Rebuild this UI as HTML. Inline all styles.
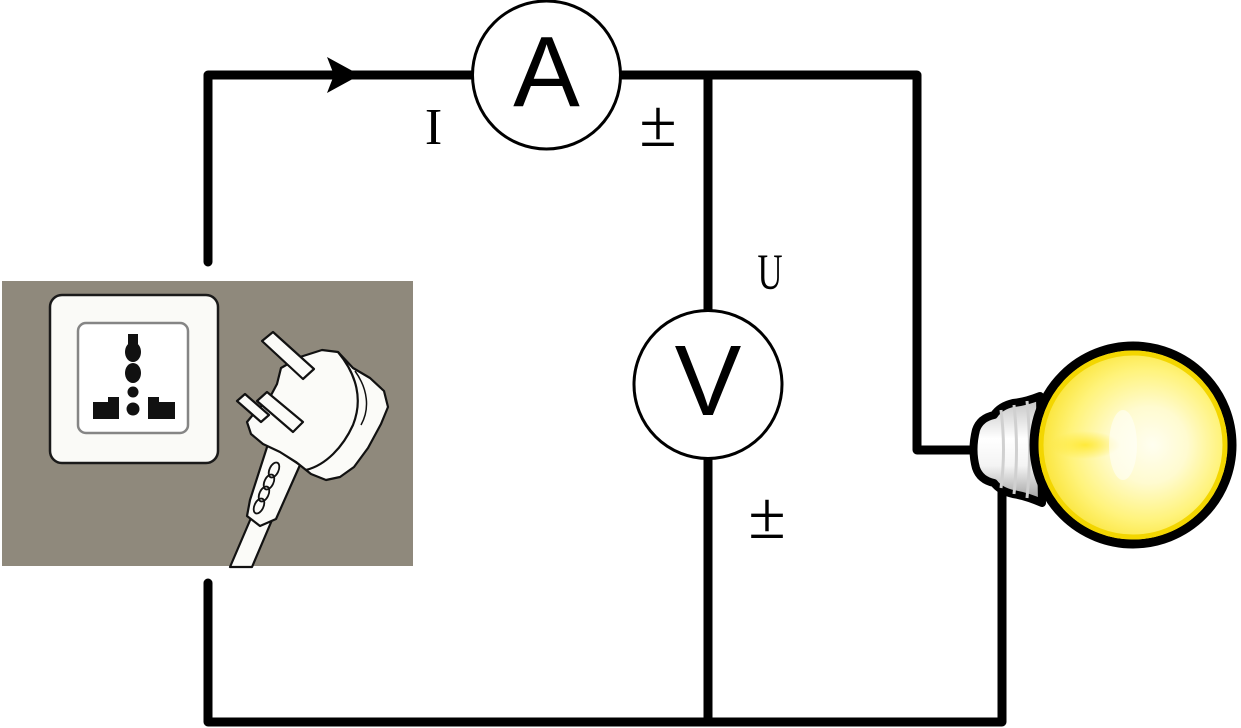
<!DOCTYPE html>
<html>
<head>
<meta charset="utf-8">
<style>
html,body{margin:0;padding:0;background:#fff;}
svg{display:block;}
</style>
</head>
<body>
<svg width="1241" height="728" viewBox="0 0 1241 728" xmlns="http://www.w3.org/2000/svg">
<defs>
<radialGradient id="glob" cx="0.55" cy="0.5" r="0.55" fx="0.6" fy="0.5">
<stop offset="0" stop-color="#fffef0"/>
<stop offset="0.35" stop-color="#fffbd0"/>
<stop offset="0.7" stop-color="#fff37a"/>
<stop offset="0.92" stop-color="#fbe640"/>
<stop offset="1" stop-color="#f2d400"/>
</radialGradient>
<radialGradient id="fil" cx="0.5" cy="0.5" r="0.5">
<stop offset="0" stop-color="#ffe830" stop-opacity="0.9"/>
<stop offset="1" stop-color="#ffe830" stop-opacity="0"/>
</radialGradient>
<linearGradient id="base" x1="0" y1="0" x2="0" y2="1">
<stop offset="0" stop-color="#bfbfbf"/>
<stop offset="0.4" stop-color="#ffffff"/>
<stop offset="0.65" stop-color="#f4f4f4"/>
<stop offset="1" stop-color="#9a9a9a"/>
</linearGradient>
</defs>

<!-- socket picture -->
<rect x="2" y="281" width="411" height="285" fill="#8f897c"/>
<rect x="50" y="295" width="168" height="168" rx="12" fill="#fafaf7" stroke="#1a1a1a" stroke-width="2.5"/>
<rect x="78" y="323" width="110" height="110" rx="8" fill="#ffffff" stroke="#858585" stroke-width="2.5"/>
<g fill="#111">
<rect x="128" y="334" width="10" height="10"/>
<ellipse cx="133" cy="352" rx="8" ry="10"/>
<ellipse cx="133" cy="373" rx="8" ry="10"/>
<circle cx="133" cy="392" r="5.5"/>
<circle cx="133" cy="409" r="6.5"/>
<rect x="93" y="402" width="20" height="17"/>
<rect x="108" y="397" width="11" height="22"/>
<rect x="148" y="397" width="11" height="22"/>
<rect x="155" y="402" width="20" height="17"/>
</g>

<!-- plug -->
<g stroke="#111" stroke-width="2.2" stroke-linejoin="round" fill="#fbfbf8">
<!-- cable -->
<path d="M251,518 L230,567 L252,567 L272,520 Z"/>
<!-- grip -->
<path d="M268,444 L300,465 L276,519 L260,526 L247,516 L250,500 Z"/>
<g fill="none" stroke-width="1.8">
<ellipse cx="274" cy="470" rx="8" ry="4.5" transform="rotate(-65 274 470)"/>
<ellipse cx="269" cy="482" rx="8" ry="4.5" transform="rotate(-65 269 482)"/>
<ellipse cx="264" cy="494" rx="8" ry="4.5" transform="rotate(-65 264 494)"/>
<ellipse cx="259" cy="506" rx="8" ry="4.5" transform="rotate(-65 259 506)"/>
</g>
<!-- body -->
<path d="M281,368 L300,357 L322,350 L338,352 L353,368 L370,378 L384,391 L388,407 L381,424 L368,448 L354,467 L340,477 L326,480 L311,474 L296,462 L280,452 L263,444 L251,434 L247,422 L256,411 L269,399 L277,384 Z"/>
<path d="M338,352 C357,375 363,400 353,425 C343,447 326,465 306,470" fill="none"/>
<path d="M355,371 C368,389 370,409 361,425" fill="none" stroke-width="1.5"/>
<!-- prongs -->
<path d="M262,341 L273,332 L314,369 L303,379 Z"/>
<path d="M237,401 L245,394 L269,415 L261,422 Z"/>
<path d="M257,401 L267,392 L303,422 L293,432 Z"/>
</g>

<!-- wires -->
<g stroke="#000" stroke-width="9" stroke-linecap="round" stroke-linejoin="round" fill="none">
<path d="M208,262 L208,75 L472,75"/>
<path d="M621,75 L917,75 L917,450 L975,450"/>
<path d="M708,75 L708,311"/>
<path d="M708,457 L708,722"/>
<path d="M208,583 L208,722 L1002,722 L1002,478"/>
</g>
<polygon points="327,57 360,75 327,93 334,75" fill="#000"/>

<!-- meters -->
<circle cx="546.5" cy="75" r="74" fill="#fff" stroke="#000" stroke-width="3"/>
<circle cx="708" cy="384.5" r="74" fill="#fff" stroke="#000" stroke-width="3"/>
<text x="546.5" y="106" font-family="Liberation Sans, DejaVu Sans, sans-serif" font-size="100" text-anchor="middle" fill="#000">A</text>
<text x="708" y="415" font-family="Liberation Sans, DejaVu Sans, sans-serif" font-size="100" text-anchor="middle" fill="#000">V</text>

<!-- labels -->
<text x="433.5" y="144" font-family="Liberation Serif, serif" font-size="52" text-anchor="middle" fill="#000">I</text>
<text x="0" y="0" font-family="Liberation Serif, serif" font-size="51" text-anchor="middle" fill="#000" transform="translate(770 289) scale(0.68 1)">U</text>
<text x="658" y="146" font-family="Liberation Serif, serif" font-size="68" text-anchor="middle" fill="#000">±</text>
<text x="767" y="538" font-family="Liberation Serif, serif" font-size="68" text-anchor="middle" fill="#000">±</text>

<!-- bulb -->
<path d="M1040,396 Q1025,402 1013,403 Q1000,406 994,415 Q980,418 976,430 Q971,450 976,468 Q980,480 994,483 Q1000,491 1013,494 Q1026,496 1042,503 Z" fill="url(#base)" stroke="#000" stroke-width="8" stroke-linejoin="round"/>
<g stroke="#d0d0d0" stroke-width="3" fill="none">
<path d="M1001,410 Q1006,450 1001,488"/>
<path d="M1014,405 Q1019,450 1014,494"/>
<path d="M1027,401 Q1032,450 1027,498"/>
</g>
<circle cx="1133" cy="445" r="99" fill="url(#glob)" stroke="#000" stroke-width="9"/>
<circle cx="1133" cy="445" r="92" fill="none" stroke="#f3d600" stroke-width="5"/>
<ellipse cx="1085" cy="445" rx="35" ry="14" fill="url(#fil)"/>
<ellipse cx="1123" cy="445" rx="14" ry="35" fill="#ffffff" opacity="0.5"/>
</svg>
</body>
</html>
